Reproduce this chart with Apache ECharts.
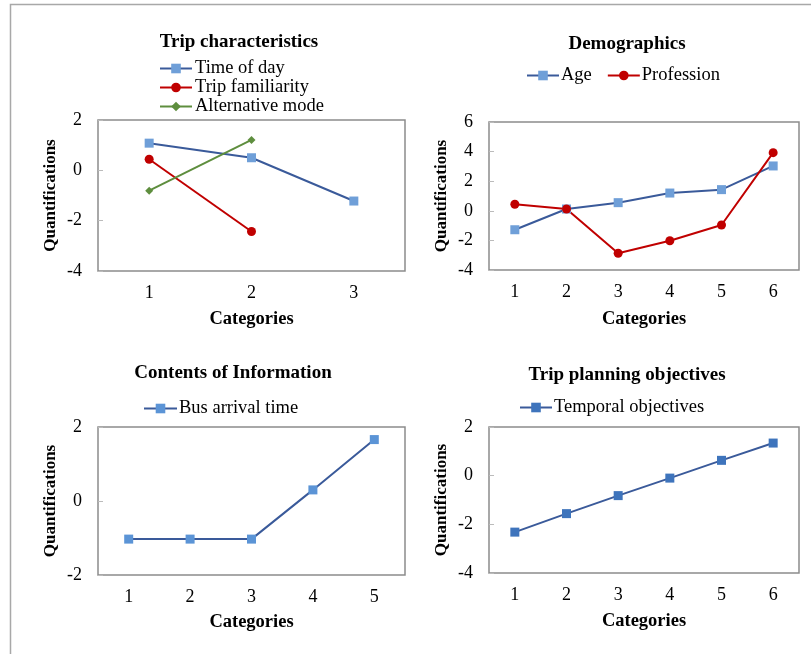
<!DOCTYPE html>
<html><head><meta charset="utf-8">
<script src="https://cdn.jsdelivr.net/npm/echarts@6/dist/echarts.min.js"></script>
<style>html,body{margin:0;padding:0;background:#fff}#c{width:811px;height:654px}</style>
</head><body><div id="c"></div>
<script>
// Chart 1: Trip characteristics
const cats1 = ['1', '2', '3'];
const timeOfDay = [1.08, 0.5, -1.22];
const tripFamiliarity = [0.44, -2.43, null];
const alternativeMode = [-0.81, 1.21, null];
// Chart 2: Demographics
const cats2 = ['1', '2', '3', '4', '5', '6'];
const age = [-1.28, 0.12, 0.55, 1.2, 1.43, 3.03];
const profession = [0.44, 0.12, -2.87, -2.02, -0.96, 3.93];
// Chart 3: Contents of Information
const cats3 = ['1', '2', '3', '4', '5'];
const busArrival = [-1.03, -1.03, -1.03, 0.3, 1.66];
// Chart 4: Trip planning objectives
const cats4 = ['1', '2', '3', '4', '5', '6'];
const temporal = [-2.32, -1.56, -0.82, -0.1, 0.63, 1.34];

const FONT = '"Liberation Serif", "Times New Roman", serif';
const DARK = '#3A5A9A';
const LIGHT = '#6F9FD8';
const RED = '#C00000';
const GREEN = '#5E8E3E';
const MID = '#3E74BC';

const grids = [
  {left: 98, top: 120, width: 307, height: 151},
  {left: 489, top: 122, width: 310, height: 148},
  {left: 98, top: 427, width: 307, height: 148},
  {left: 489, top: 427, width: 310, height: 146}
].map(g => Object.assign(g, {show: true, borderColor: '#8c8c8c', borderWidth: 1.5, backgroundColor: 'transparent'}));

function xAx(i, data, gap) {
  return {
    type: 'category', gridIndex: i, data: data, boundaryGap: true,
    name: 'Categories', nameLocation: 'middle', nameGap: gap,
    nameTextStyle: {fontFamily: FONT, fontWeight: 'bold', fontSize: 18.5, color: '#000'},
    axisLine: {show: false}, axisTick: {show: false},
    axisLabel: {fontFamily: FONT, fontSize: 18, color: '#000', margin: 13},
    splitLine: {show: false}
  };
}
function yAx(i, min, max, interval) {
  return {
    type: 'value', gridIndex: i, min: min, max: max, interval: interval,
    name: 'Quantifications', nameLocation: 'middle', nameGap: 39,
    nameTextStyle: {fontFamily: FONT, fontWeight: 'bold', fontSize: 17, color: '#000'},
    axisLine: {show: false},
    axisTick: {show: true, inside: true, length: 5, lineStyle: {color: '#bbb'}},
    axisLabel: {fontFamily: FONT, fontSize: 18, color: '#000', margin: 16},
    splitLine: {show: false}
  };
}
function ser(name, data, xi, lineColor, markColor, symbol, size) {
  return {
    type: 'line', name: name, data: data, xAxisIndex: xi, yAxisIndex: xi,
    symbol: symbol, symbolSize: size, showSymbol: true,
    lineStyle: {color: lineColor, width: 2},
    itemStyle: {color: markColor, borderWidth: 0},
    emphasis: {disabled: true},
    animation: false, connectNulls: false
  };
}
const titleStyle = {fontFamily: FONT, fontWeight: 'bold', fontSize: 19, color: '#000'};
const legendText = {fontFamily: FONT, fontSize: 18.5, color: '#000'};

const option = {
  animation: false,
  title: [
    {text: 'Trip characteristics', left: 234, top: 28, textAlign: 'center', textStyle: titleStyle},
    {text: 'Demographics', left: 622, top: 30, textAlign: 'center', textStyle: titleStyle},
    {text: 'Contents of Information', left: 228, top: 359, textAlign: 'center', textStyle: titleStyle},
    {text: 'Trip planning objectives', left: 622, top: 361, textAlign: 'center', textStyle: titleStyle}
  ],
  legend: [
    {orient: 'vertical', left: 159, top: 59, itemWidth: 32, itemHeight: 12, itemGap: 0, padding: 0,
     textStyle: Object.assign({lineHeight: 18.3, padding: [0, 0, 0, -2]}, legendText),
     data: ['Time of day', 'Trip familiarity', 'Alternative mode']},
    {orient: 'horizontal', left: 526, top: 66, itemWidth: 32, itemHeight: 12, itemGap: 15, padding: 0,
     textStyle: Object.assign({lineHeight: 18, padding: [0, 0, 0, -3]}, legendText),
     data: ['Age', 'Profession']},
    {orient: 'horizontal', left: 143, top: 399, itemWidth: 33, itemHeight: 12, itemGap: 10, padding: 0,
     textStyle: Object.assign({lineHeight: 18, padding: [0, 0, 0, -3]}, legendText),
     data: ['Bus arrival time']},
    {orient: 'horizontal', left: 519, top: 398, itemWidth: 32, itemHeight: 12, itemGap: 10, padding: 0,
     textStyle: Object.assign({lineHeight: 18, padding: [0, 0, 0, -3]}, legendText),
     data: ['Temporal objectives']}
  ],
  grid: grids,
  xAxis: [xAx(0, cats1, 39), xAx(1, cats2, 40), xAx(2, cats3, 38), xAx(3, cats4, 39)],
  yAxis: [yAx(0, -4, 2, 2), yAx(1, -4, 6, 2), yAx(2, -2, 2, 2), yAx(3, -4, 2, 2)],
  series: [
    ser('Time of day', timeOfDay, 0, DARK, LIGHT, 'rect', 9),
    ser('Trip familiarity', tripFamiliarity, 0, RED, RED, 'circle', 9),
    ser('Alternative mode', alternativeMode, 0, GREEN, GREEN, 'diamond', 8),
    ser('Age', age, 1, DARK, LIGHT, 'rect', 9),
    ser('Profession', profession, 1, RED, RED, 'circle', 9),
    ser('Bus arrival time', busArrival, 2, DARK, '#5B94D6', 'rect', 9),
    ser('Temporal objectives', temporal, 3, DARK, MID, 'rect', 9)
  ],
  graphic: [
    {type: 'rect', shape: {x: 10.5, y: 4.5, width: 900, height: 800},
     style: {fill: 'none', stroke: '#a8a8a8', lineWidth: 1.5}, silent: true, z: -10}
  ]
};
const chart = echarts.init(document.getElementById('c'), null, {renderer: 'canvas'});
chart.setOption(option);
</script>
</body></html>
